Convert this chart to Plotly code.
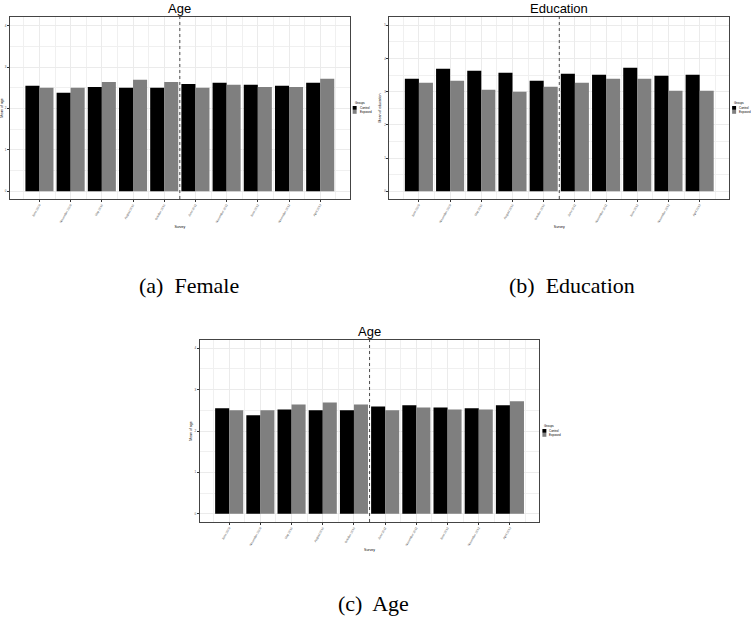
import plotly.graph_objects as go

# Survey waves on the horizontal axis
surveys = ["June 2009", "November 2009", "May 2010", "August 2010", "October 2010",
           "June 2011", "November 2011", "June 2012", "November 2012", "April 2013"]
groups = ["Control", "Exposed"]

# Mean age by group and survey wave
age_control = [2.55, 2.38, 2.52, 2.50, 2.50, 2.59, 2.62, 2.57, 2.55, 2.62]
age_exposed = [2.50, 2.50, 2.64, 2.69, 2.64, 2.50, 2.57, 2.52, 2.52, 2.72]

# Mean education by group and survey wave
edu_control = [3.39, 3.69, 3.63, 3.57, 3.33, 3.54, 3.51, 3.72, 3.48, 3.51]
edu_exposed = [3.27, 3.33, 3.06, 3.00, 3.15, 3.27, 3.39, 3.39, 3.03, 3.03]

age_ticks = [0, 1, 2, 3, 4]
edu_ticks = [0, 1, 2, 3, 4, 5]

W, H = 751, 624
positions = list(range(1, len(surveys) + 1))
colors = {"Control": "#000000", "Exposed": "#7f7f7f"}

# panel boxes in pixels: left, top, right, bottom
panels = [
    dict(box=(5, 17, 347, 199), title="Age", ylab="Mean of age",
         series=(age_control, age_exposed), yr=[-0.19, 4.21], yt=age_ticks,
         caption="(a)  Female", cap=(185, 286)),
    dict(box=(387, 17, 729, 199), title="Education", ylab="Mean of education",
         series=(edu_control, edu_exposed), yr=[-0.23, 5.25], yt=edu_ticks,
         caption="(b)  Education", cap=(571, 286)),
    dict(box=(196, 340, 538, 522), title="Age", ylab="Mean of age",
         series=(age_control, age_exposed), yr=[-0.2, 4.2], yt=age_ticks,
         caption="(c)  Age", cap=(371, 603)),
]

fig = go.Figure()
shapes, annotations = [], []
tiny = dict(family="Liberation Sans, Arial", size=3, color="#4d4d4d")

for i, p in enumerate(panels, start=1):
    l, t, r, b = p["box"]
    xa = "x" if i == 1 else f"x{i}"
    ya = "y" if i == 1 else f"y{i}"
    for g, vals in zip(groups, p["series"]):
        fig.add_trace(go.Bar(x=positions, y=vals, name=g, marker_color=colors[g],
                             marker_line_width=0, xaxis=xa, yaxis=ya,
                             offsetgroup=g, showlegend=False))
    axis_common = dict(showline=True, mirror=True, linecolor="#444444", linewidth=1,
                       gridcolor="#ebebeb", gridwidth=1, zeroline=False,
                       ticks="outside", ticklen=2, tickcolor="#333333", tickwidth=0.5,
                       tickfont=tiny)
    fig.layout[f"xaxis{'' if i == 1 else i}"] = dict(
        axis_common, domain=[l / W, r / W], anchor=ya, range=[0.055, 10.945],
        tickvals=positions, ticktext=surveys, tickangle=-60,
        minor=dict(tickvals=[x + 0.5 for x in [0] + positions], showgrid=True,
                   gridcolor="#f0f0f0", gridwidth=0.6, ticks=""),
        title=dict(text="Survey", font=dict(family="Liberation Sans, Arial", size=3.5,
                                            color="#000000"), standoff=2))
    fig.layout[f"yaxis{'' if i == 1 else i}"] = dict(
        axis_common, domain=[1 - b / H, 1 - t / H], anchor=xa, range=p["yr"],
        tickvals=p["yt"], ticktext=[str(v) for v in p["yt"]],
        minor=dict(tickvals=[v + 0.5 for v in p["yt"][:-1]], showgrid=True,
                   gridcolor="#f0f0f0", gridwidth=0.6, ticks=""),
        title=dict(text=p["ylab"], font=dict(family="Liberation Sans, Arial", size=3.5,
                                             color="#000000"), standoff=2))
    # dotted divider between the two survey periods
    shapes.append(dict(type="line", xref=xa, yref=f"{ya} domain", x0=5.5, x1=5.5,
                       y0=0, y1=1, line=dict(color="#222222", width=0.8, dash="dot")))
    # panel title
    annotations.append(dict(text=p["title"], xref=f"{xa} domain", yref=f"{ya} domain",
                            x=0.5, y=1, yanchor="bottom", showarrow=False, yshift=-1,
                            font=dict(family="Liberation Sans, Arial", size=13,
                                      color="#000000")))
    # legend keys beside the panel
    lx = r + 3
    ly = (t + b) / 2 - 5
    annotations.append(dict(text="Groups", xref="paper", yref="paper", x=lx / W,
                            y=1 - ly / H, xanchor="left", yanchor="middle",
                            showarrow=False, font=dict(family="Liberation Sans, Arial",
                                                       size=3, color="#000000")))
    for k, g in enumerate(groups):
        y0 = ly + 3 + 4 * k
        shapes.append(dict(type="rect", xref="paper", yref="paper",
                           x0=lx / W, x1=(lx + 4) / W,
                           y0=1 - (y0 + 3.8) / H, y1=1 - y0 / H,
                           fillcolor=colors[g], line=dict(width=0)))
        annotations.append(dict(text=g, xref="paper", yref="paper", x=(lx + 5) / W,
                                y=1 - (y0 + 1.9) / H, xanchor="left", yanchor="middle",
                                showarrow=False, font=dict(family="Liberation Sans, Arial",
                                                           size=3, color="#000000")))
    # subfigure caption
    cx, cy = p["cap"]
    annotations.append(dict(text=p["caption"], xref="paper", yref="paper", x=cx / W,
                            y=1 - cy / H, xanchor="center", yanchor="middle",
                            showarrow=False, font=dict(family="Liberation Serif, Times New Roman",
                                                       size=22, color="#000000")))

fig.update_layout(width=W, height=H, margin=dict(l=0, r=0, t=0, b=0),
                  paper_bgcolor="white", plot_bgcolor="white",
                  barmode="group", bargap=0.1, bargroupgap=0,
                  shapes=shapes, annotations=annotations, showlegend=False)

fig.write_html("out.html")
